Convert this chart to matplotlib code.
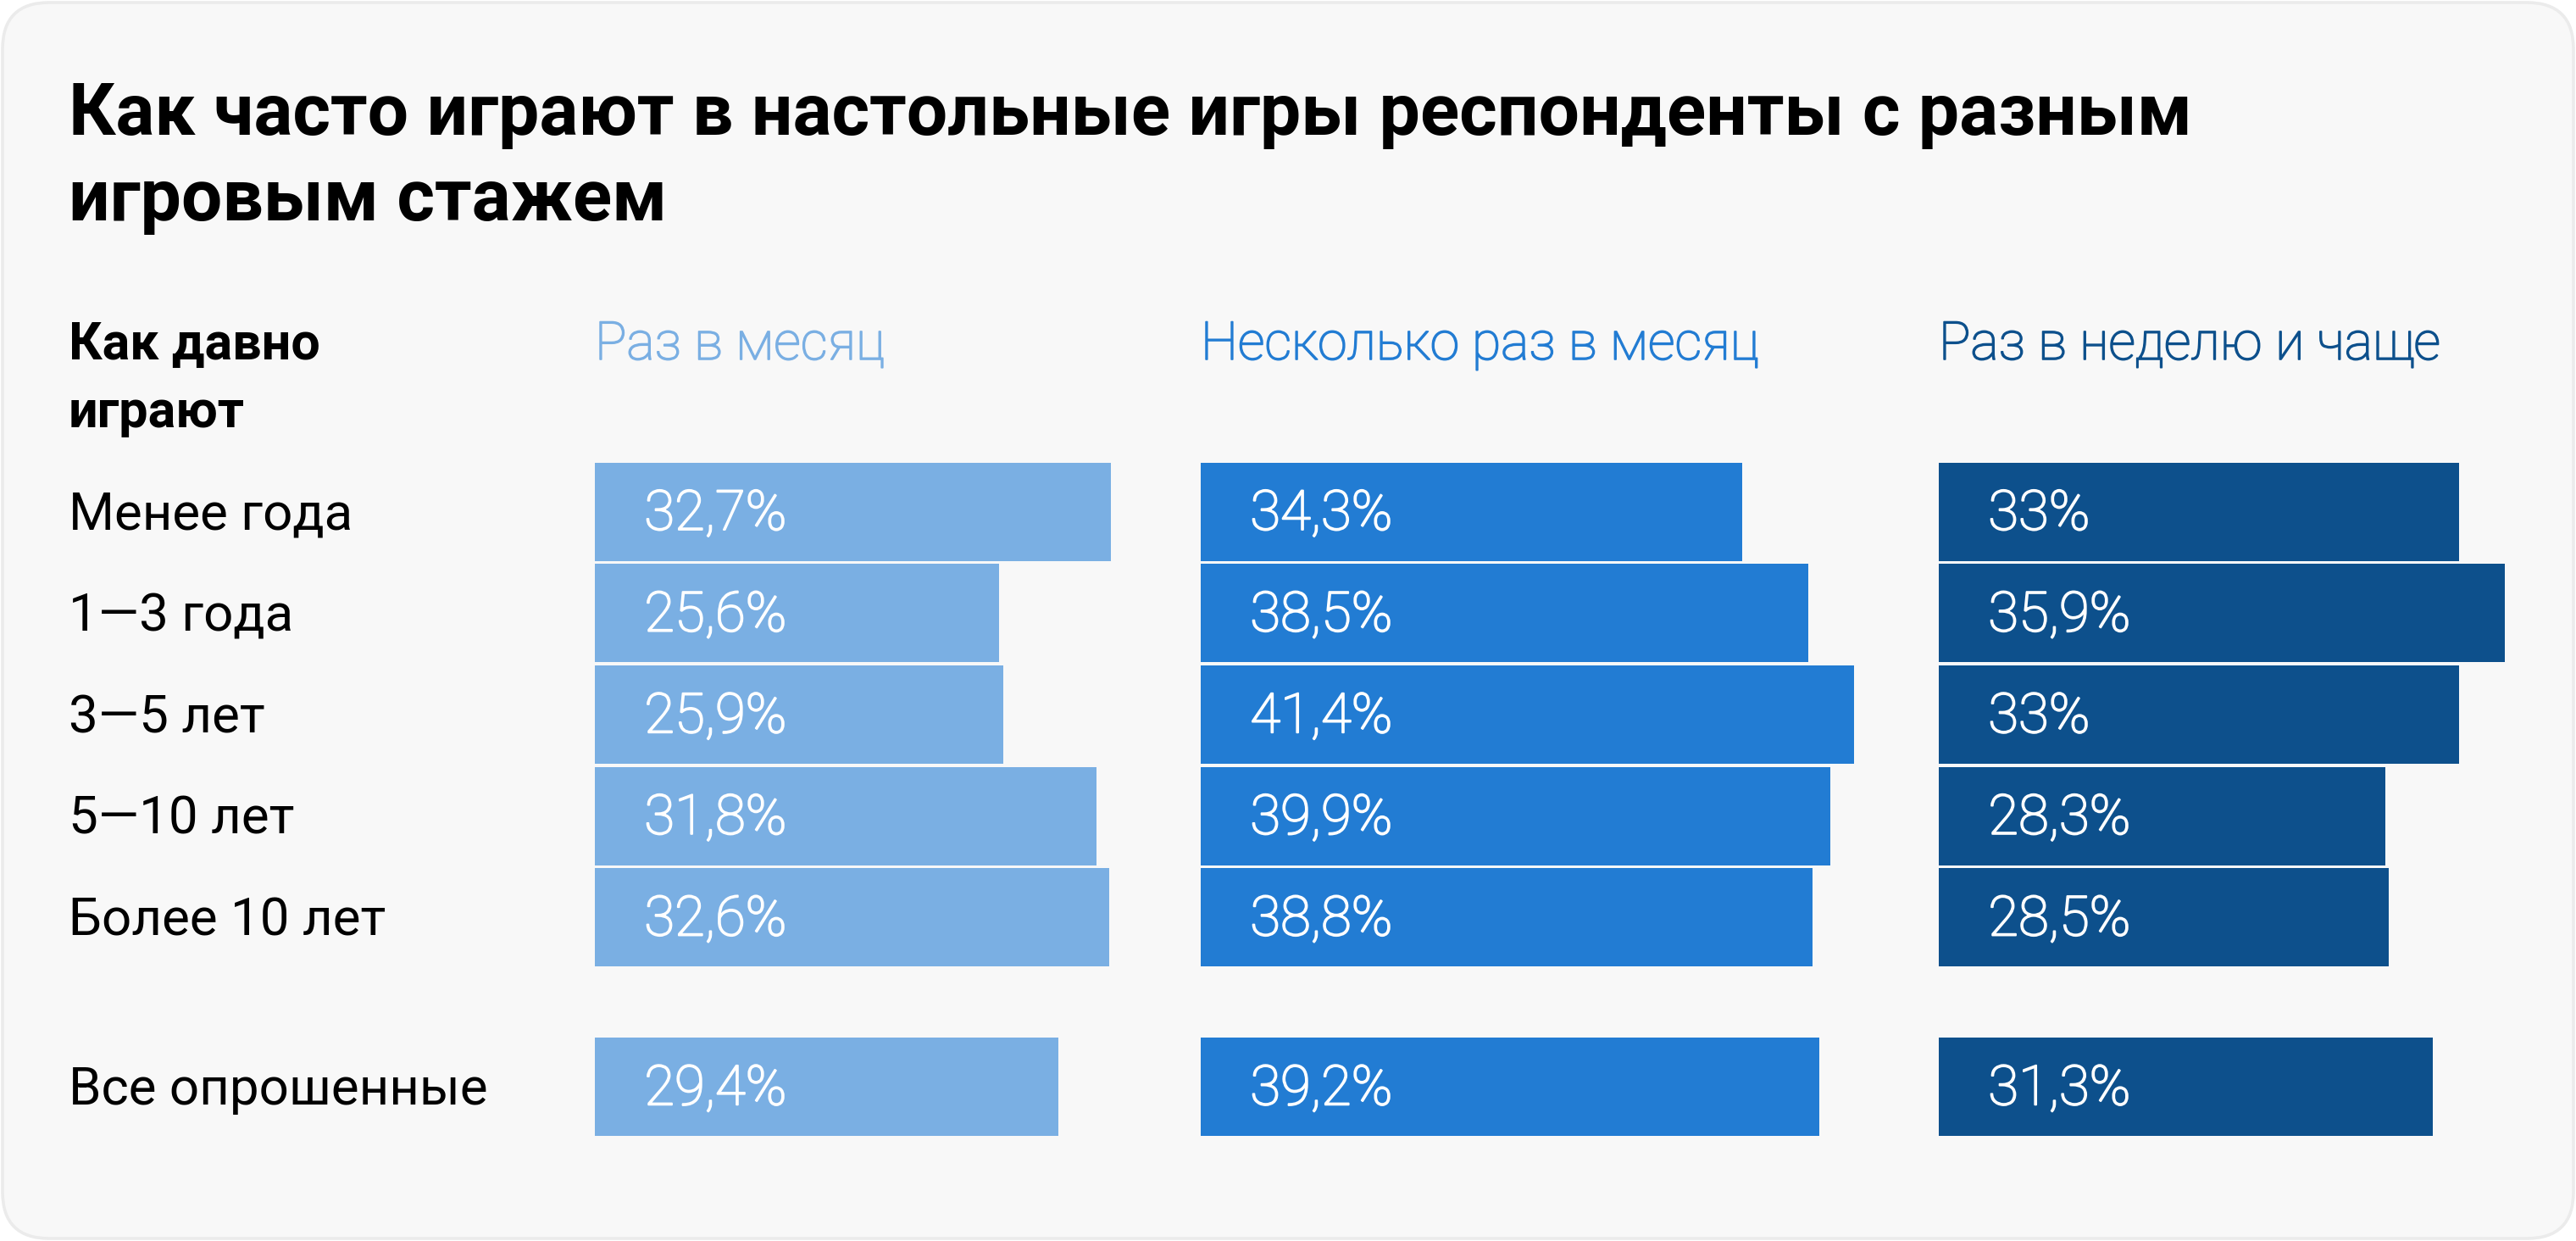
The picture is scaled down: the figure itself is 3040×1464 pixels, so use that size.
import matplotlib.pyplot as plt
from matplotlib.patches import FancyBboxPatch
import matplotlib.patheffects as pe

# данные
stazh = ['Менее года', '1—3 года', '3—5 лет', '5—10 лет', 'Более 10 лет', 'Все опрошенные']
columns = ['Раз в месяц', 'Несколько раз в месяц', 'Раз в неделю и чаще']
raz_v_mesyac = [32.7, 25.6, 25.9, 31.8, 32.6, 29.4]
neskolko_raz = [34.3, 38.5, 41.4, 39.9, 38.8, 39.2]
raz_v_nedelyu = [33.0, 35.9, 33.0, 28.3, 28.5, 31.3]
row_pos = [0, 1, 2, 3, 4, 5.67]

colors = ['#7aafe3', '#227cd3', '#0d508c']

W, H = 3040, 1464
DPI = 200
plt.rcParams['font.family'] = ['Roboto', 'DejaVu Sans']

fig = plt.figure(figsize=(W / DPI, H / DPI), dpi=DPI)
fig.patch.set_facecolor('white')

# фон-карточка в пикселях
card = FancyBboxPatch((3, 3), W - 6, H - 6, boxstyle='round,pad=0,rounding_size=55',
                      facecolor='#f8f8f8', edgecolor='#ebebeb', linewidth=1.3,
                      transform=None, zorder=-5)
fig.patches.append(card)

def fx(x):
    return x / W

def fy(y):
    return 1 - y / H

# заголовок
fig.text(fx(81), fy(159), 'Как часто играют в настольные игры респонденты с разным',
         fontsize=30.9, fontweight='bold', color='black', va='baseline')
fig.text(fx(81), fy(260), 'игровым стажем',
         fontsize=30.9, fontweight='bold', color='black', va='baseline')

fig.text(fx(81), fy(424), 'Как давно', fontsize=22, fontweight='bold', va='baseline')
fig.text(fx(81), fy(504), 'играют', fontsize=22, fontweight='bold', va='baseline')

col_left = [702, 1417, 2288]
px_per_pct = 18.62
xmax = 42
y_top, y_bot = 544, 1342

series = [raz_v_mesyac, neskolko_raz, raz_v_nedelyu]
for i in range(3):
    ax = fig.add_axes([fx(col_left[i]), fy(y_bot), xmax * px_per_pct / W, (y_bot - y_top) / H])
    ax.barh(row_pos, series[i], height=0.97, color=colors[i], zorder=2)
    ax.set_xlim(0, xmax)
    ax.set_ylim(6.17, -0.5)
    ax.axis('off')
    ax.patch.set_visible(False)
    for y, v in zip(row_pos, series[i]):
        lbl = ('%.1f' % v).replace('.', ',').replace(',0', '') + '%'
        ax.annotate(lbl, (0, y), xytext=(21, -7.6), textcoords='offset points',
                    fontsize=23.5, fontweight='light', color='white', va='baseline', ha='left',
                    path_effects=[pe.withStroke(linewidth=0.7, foreground='white')])
    fig.text(fx(col_left[i]), fy(424), columns[i], fontsize=22.5, fontweight='light',
             color=colors[i], va='baseline',
             path_effects=[pe.withStroke(linewidth=0.6, foreground=colors[i])])

# подписи строк
for y, name in zip(row_pos, stazh):
    yc = y_top + (y + 0.5) * (y_bot - y_top) / 6.67
    fig.text(fx(81), fy(yc + 21), name, fontsize=22.3, color='black', va='baseline')

fig.savefig('out.png', dpi=DPI, facecolor='white')
